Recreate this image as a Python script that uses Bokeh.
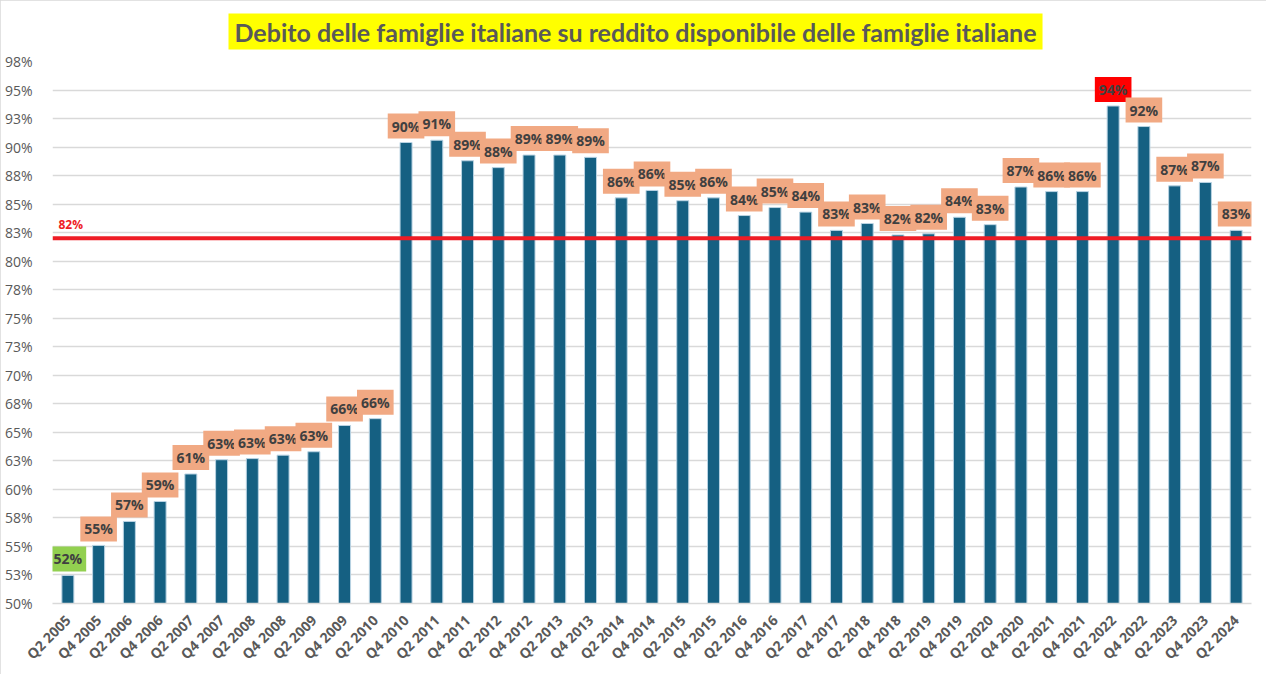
import math

from bokeh.core.properties import value
from bokeh.embed import file_html
from bokeh.models import ColumnDataSource, FactorRange, FixedTicker, Label, Range1d, Span
from bokeh.plotting import figure
from bokeh.resources import INLINE

# Semesters (Q2 / Q4) from 2005 to mid 2024
periods = [
    "Q2 2005", "Q4 2005", "Q2 2006", "Q4 2006", "Q2 2007", "Q4 2007", "Q2 2008",
    "Q4 2008", "Q2 2009", "Q4 2009", "Q2 2010", "Q4 2010", "Q2 2011", "Q4 2011",
    "Q2 2012", "Q4 2012", "Q2 2013", "Q4 2013", "Q2 2014", "Q4 2014", "Q2 2015",
    "Q4 2015", "Q2 2016", "Q4 2016", "Q2 2017", "Q4 2017", "Q2 2018", "Q4 2018",
    "Q2 2019", "Q4 2019", "Q2 2020", "Q4 2020", "Q2 2021", "Q4 2021", "Q2 2022",
    "Q4 2022", "Q2 2023", "Q4 2023", "Q2 2024",
]

# Household debt as % of household disposable income
debt_ratio = [
    52.46, 55.09, 57.19, 58.94, 61.35, 62.6, 62.7, 63.0, 63.3, 65.6, 66.2,
    90.4, 90.6, 88.8, 88.2, 89.3, 89.3, 89.1, 85.55, 86.2, 85.3, 85.55,
    84.0, 84.7, 84.3, 82.7, 83.3, 82.3, 82.4, 83.85, 83.2, 86.5, 86.1,
    86.1, 93.6, 91.8, 86.6, 86.9, 82.7,
]

# Reference level drawn as a horizontal line
reference_level = 82.0

y_ticks = [50.0, 52.5, 55.0, 57.5, 60.0, 62.5, 65.0, 67.5, 70.0, 72.5,
           75.0, 77.5, 80.0, 82.5, 85.0, 87.5, 90.0, 92.5, 95.0, 97.5]

TITLE = "Debito delle famiglie italiane su reddito disponibile delle famiglie italiane"

BAR_COLOR = "#156082"
LABEL_BG = "#F1A983"
MIN_BG = "#92D050"
MAX_BG = "#FF0000"
TEXT_DARK = "#404040"
AXIS_TEXT = "#595959"
GRID = "#D9D9D9"
FONT = "Open Sans"

FRAME_LEFT = 52


def pct(v):
    return f"{int(math.floor(v + 0.5))}%"


lo = debt_ratio.index(min(debt_ratio))
hi = debt_ratio.index(max(debt_ratio))
label_bg = [MIN_BG if i == lo else MAX_BG if i == hi else LABEL_BG
            for i in range(len(debt_ratio))]

source = ColumnDataSource(dict(
    period=periods,
    value=debt_ratio,
    label=[pct(v) for v in debt_ratio],
    label_bg=label_bg,
))

p = figure(
    width=1266, height=674,
    x_range=FactorRange(*periods),
    y_range=Range1d(50, 97.5),
    output_backend="svg",
    toolbar_location=None,
    min_border_left=FRAME_LEFT, min_border_right=15,
    min_border_top=61, min_border_bottom=71,
)
p.outline_line_color = None
p.background_fill_color = "white"
p.border_fill_color = "white"
p.styles = {"outline": "2px solid #D9D9D9", "outline-offset": "-2px"}

# Title on a yellow box near the top edge
p.title.text = TITLE
p.title.align = "left"
p.title.vertical_align = "top"
p.title.offset = 176
p.title.text_font = "Lato"
p.title.text_font_size = "25px"
p.title.text_font_style = "bold"
p.title.text_color = AXIS_TEXT
p.title.background_fill_color = "#FFFF00"
p.title.padding = (6, 3)
p.title.standoff = 20

# Bars
p.vbar(x="period", top="value", bottom=50, width=0.39, source=source,
       fill_color=BAR_COLOR, line_color="#B9D3E3", line_width=1)

# Value labels on coloured boxes above each bar
p.text(x="period", y="value", text="label", source=source,
       text_align="center", text_baseline="bottom", y_offset=-4,
       text_font=value(FONT), text_font_size="14px", text_font_style="bold",
       text_color=TEXT_DARK,
       background_fill_color="label_bg", padding=(4, 3))

# Horizontal reference line
p.add_layout(Span(location=reference_level, dimension="width",
                  line_color="#EE1C25", line_width=4))
p.add_layout(Label(x=58 - FRAME_LEFT, y=reference_level, x_units="screen", y_units="data",
                   y_offset=5, text=pct(reference_level), text_color="#EE1C25",
                   text_font=FONT, text_font_size="12px", text_font_style="bold"))

# Axes
p.yaxis.ticker = FixedTicker(ticks=y_ticks)
p.yaxis.major_label_overrides = {t: pct(t) for t in y_ticks}
p.yaxis.axis_line_color = None
p.yaxis.major_tick_line_color = None
p.yaxis.minor_tick_line_color = None
p.yaxis.major_label_standoff = 14
p.yaxis.major_label_text_font = FONT
p.yaxis.major_label_text_font_size = "14px"
p.yaxis.major_label_text_color = AXIS_TEXT

p.xaxis.major_label_orientation = math.pi / 4
p.xaxis.axis_line_color = GRID
p.xaxis.axis_line_width = 1.5
p.xaxis.major_tick_line_color = None
p.xaxis.minor_tick_line_color = None
p.xaxis.major_label_standoff = 8
p.xaxis.major_label_text_font = FONT
p.xaxis.major_label_text_font_size = "14px"
p.xaxis.major_label_text_font_style = "bold"
p.xaxis.major_label_text_color = AXIS_TEXT

p.xgrid.grid_line_color = None
p.ygrid.grid_line_color = GRID
p.ygrid.grid_line_width = 1.5

open("out.html", "w").write(file_html(p, INLINE))
